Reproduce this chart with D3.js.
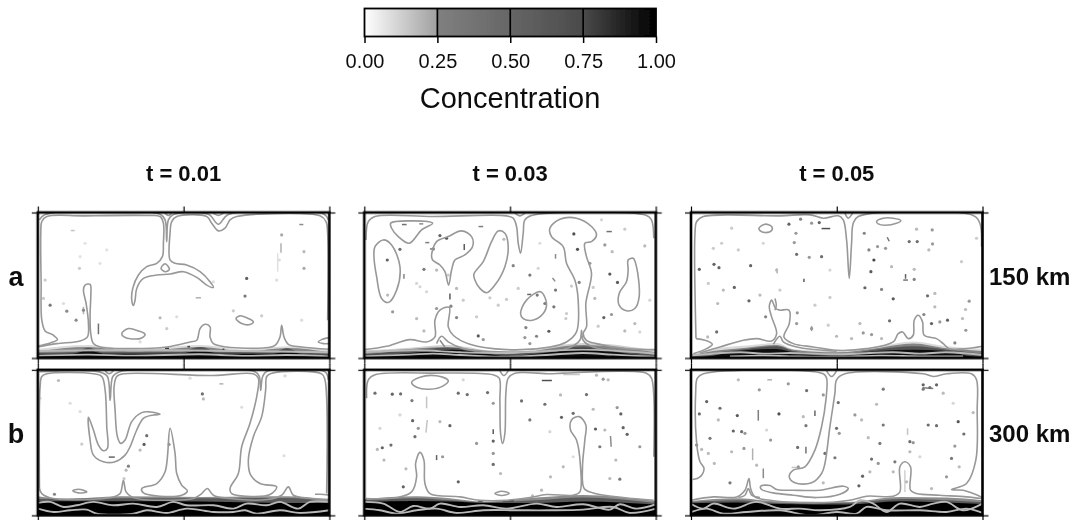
<!DOCTYPE html>
<html>
<head>
<meta charset="utf-8">
<script src="https://cdn.jsdelivr.net/npm/d3@7"></script>
<style>
body { margin: 0; background: #fff; }
text { font-family: "Liberation Sans", Arial, sans-serif; fill: #111; }
</style>
</head>
<body>
<div id="container"></div>
<script>
// Concentration colour bar
const barTicks = [0, 0.25, 0.5, 0.75, 1];
const barStops = [[0, "#ffffff"], [0.2499, "#a0a0a0"], [0.25, "#808080"], [0.5, "#666666"], [0.75, "#4a4a4a"], [1, "#000000"]];

const columnTitles = ["t = 0.01", "t = 0.03", "t = 0.05"];
const rowLetters = ["a", "b"];
const rowDepths = ["150 km", "300 km"];

// Everything below in digitising units, one frame per panel: [x0, x1, y0, y1]
const frameA1 = [113, 988, 38, 473], frameA2 = [43, 918, 38, 473], frameA3 = [33, 908, 38, 473];
const frameB1 = [113, 988, 30, 465], frameB2 = [43, 918, 30, 465], frameB3 = [33, 908, 30, 465];

// contours: [kind, points], kind 0 open, 1 closed, 2 open and inside the dark layer
const a1Contours = [
  [0, [[113,437],[150,428],[172,418],[160,405],[135,392],[125,360],[123,250],[122,100],[125,65],[140,50],[250,48],[440,47],[480,50],[490,70],[490,130],[487,170],[470,190],[440,200],[415,225],[398,265],[395,300],[400,316],[405,300],[410,265],[430,235],[470,225],[510,222],[550,215],[590,232],[620,255],[640,262],[630,245],[600,215],[560,195],[525,190],[510,180],[510,100],[515,65],[530,50],[620,50],[635,70],[655,93],[675,85],[690,60],[710,50],[960,48],[978,65],[983,100],[983,360]]],
  [0, [[118,60],[135,44],[480,43],[495,60],[500,125],[505,60],[520,44],[625,43],[655,73],[685,44],[970,42],[985,60]]],
  [0, [[495,40],[505,47],[515,40]]],
  [0, [[640,40],[655,47],[670,40]]],
  [1, [[495,191],[483,205],[495,215],[508,208]]],
  [1, [[365,400],[385,385],[415,392],[435,402],[425,413],[395,416],[372,410]]],
  [1, [[708,355],[720,347],[745,355],[760,365],[750,373],[725,370]]],
  [0, [[113,440],[170,430],[240,422],[262,410],[265,370],[258,310],[250,270],[255,255],[270,253],[272,290],[270,340],[272,400],[280,430],[300,440],[400,445],[500,440],[570,425],[590,420],[600,385],[615,372],[630,380],[630,410],[640,430],[680,440],[790,443],[825,435],[840,410],[845,375],[852,410],[865,432],[905,440],[988,447]]],
  [0, [[988,412],[965,418],[955,425],[970,430],[988,430]]],
  [2, [[113,452],[300,450],[500,450],[700,452],[988,456]]],
  [2, [[113,466],[265,463],[400,466],[600,462],[740,467],[860,464],[988,468]]]
];
const a1Bands = [
  [0.08, [[113,446],[265,434],[400,448],[600,434],[740,448],[860,438],[988,450]]],
  [0.3, [[113,453],[265,440],[400,453],[600,440],[740,453],[860,443],[988,456]]],
  [0.65, [[113,458],[220,456],[265,442],[310,456],[540,455],[600,440],[660,456],[820,456],[860,444],[900,456],[988,460]]],
  [0.95, [[113,462],[220,460],[265,450],[310,460],[540,460],[600,450],[660,460],[820,460],[860,452],[900,460],[988,464]]]
];
const a1Spots = [[740,235,.75],[735,288,.5],[845,105,.25],[250,330,.35],[150,315,.5],[200,333,.35],[228,360,.35],[130,295,.15],[135,240,.15],[238,205,.15],[912,155,.2],[912,205,.25],[480,353,.2],[500,385,.15],[785,347,.15],[700,332,.15],[830,240,.1],[838,180,.1],[255,130,.08],[240,170,.08],[300,190,.08],[320,150,.08],[190,310,.1],[640,245,.1],[530,350,.1],[905,360,.1],[420,425,.1]];
const a1Streaks = [[295,370,295,402,.5],[843,130,843,158,.2],[898,74,910,74,.3],[212,92,224,92,.15],[587,293,603,293,.2],[250,320,250,342,.2],[495,444,507,444,.95],[562,439,570,439,.9],[667,447,673,447,.9],[833,160,833,215,.08]];

const a2Contours = [
  [0, [[48,120],[55,65],[75,50],[250,50],[470,48],[490,55],[500,80],[505,130],[512,160],[520,100],[525,60],[545,47],[890,47],[905,60],[912,115]]],
  [0, [[495,40],[510,48],[525,40]]],
  [1, [[122,70],[180,63],[248,70],[215,90],[178,130],[145,110],[125,85]]],
  [1, [[75,140],[100,120],[125,135],[150,200],[140,270],[115,307],[95,295],[80,230],[72,170]]],
  [1, [[245,165],[260,125],[295,110],[335,93],[365,110],[368,140],[345,165],[315,180],[305,210],[296,255],[285,215],[270,195],[248,180]]],
  [1, [[372,222],[400,185],[425,125],[445,93],[465,100],[475,140],[465,200],[435,255],[410,278],[390,265],[375,240]]],
  [1, [[512,340],[530,300],[572,275],[590,310],[580,340],[548,360],[520,355]]],
  [1, [[835,180],[850,175],[860,200],[868,290],[855,325],[830,332],[808,315],[808,280],[830,245],[835,210]]],
  [0, [[43,448],[110,438],[180,418],[230,425],[255,410],[255,360],[270,330],[298,322],[295,380],[310,405],[360,432],[470,448],[600,440],[650,425],[680,395],[685,300],[675,240],[650,190],[640,140],[605,110],[600,85],[630,58],[680,55],[725,80],[740,105],[725,125],[705,130],[710,170],[725,220],[708,310],[710,380],[700,400],[710,420],[740,430],[830,445],[918,448]]],
  [0, [[260,430],[275,408],[295,425],[340,445],[470,455],[650,445],[690,420],[695,390],[700,420],[730,440],[918,458]]],
  [2, [[43,456],[200,450],[330,456],[470,458],[700,448],[918,460]]],
  [2, [[43,468],[180,463],[250,460],[330,464],[470,470],[620,462],[700,458],[790,463],[918,470]]]
];
const a2Bands = [
  [0.1, [[43,450],[180,442],[290,434],[470,456],[700,428],[918,450]]],
  [0.3, [[43,456],[180,446],[290,440],[470,460],[700,434],[918,456]]],
  [0.65, [[43,462],[180,450],[290,442],[400,452],[470,462],[600,450],[700,438],[800,450],[918,465]]],
  [0.95, [[43,470],[180,458],[310,448],[400,458],[470,468],[600,456],[700,444],[800,456],[918,472]]]
];
const a2Spots = [[112,180,.7],[150,148,.6],[113,285,.2],[222,208,.5],[270,107,.7],[290,115,.9],[250,147,.6],[260,210,.2],[303,318,.4],[320,265,.2],[320,352,.4],[260,325,.3],[128,335,.3],[200,355,.2],[385,407,.8],[400,418,.3],[222,392,.2],[490,197,.4],[462,118,.2],[540,225,.5],[617,270,.5],[562,285,.5],[585,310,.5],[612,320,.5],[528,382,.4],[597,393,.8],[560,408,.4],[525,412,.3],[540,430,.3],[672,102,.9],[683,148,.9],[765,135,.3],[787,155,.2],[780,222,.8],[803,247,.8],[688,247,.4],[762,352,.7],[785,343,.3],[735,295,.2],[855,370,.2],[825,392,.2],[885,138,.2],[825,88,.15],[200,250,.12],[210,260,.12],[230,275,.12],[340,300,.15],[380,350,.15],[445,315,.15],[470,298,.15],[420,293,.15],[505,265,.15],[650,340,.15],[730,262,.15],[745,378,.15],[665,258,.15],[648,355,.15],[870,395,.12],[900,300,.12],[565,205,.12],[570,130,.1],[755,60,.12],[720,190,.3],[295,225,.15]];
const a2Streaks = [[156,74,170,74,.5],[208,72,220,72,.3],[226,128,238,128,.4],[240,147,248,147,.4],[343,132,343,150,.7],[162,222,162,236,.35],[300,280,300,298,.7],[386,80,400,80,.4],[608,234,616,244,.3],[617,162,617,176,.3],[532,283,544,283,.6],[770,95,786,95,.5],[270,420,285,440,.3]];

const a3Contours = [
  [0, [[48,415],[45,100],[50,65],[70,50],[300,48],[390,45],[430,55],[475,48],[490,60],[500,120],[508,235],[515,130],[520,70],[535,50],[880,47],[900,70],[905,140]]],
  [0, [[48,415],[75,420],[97,432],[80,445],[40,460]]],
  [0, [[495,40],[505,55],[518,40]]],
  [1, [[237,85],[255,73],[275,80],[275,92],[255,98],[240,92]]],
  [1, [[590,65],[610,55],[640,55],[663,62],[650,70],[615,76],[595,72]]],
  [0, [[60,458],[120,440],[190,420],[230,415],[275,422],[290,400],[275,350],[268,320],[275,300],[287,325],[300,330],[327,330],[328,370],[312,410],[340,430],[400,440],[470,450],[560,445],[640,425],[655,400],[668,395],[685,415],[700,405],[703,360],[715,345],[728,365],[733,405],[770,415],[790,430],[808,445],[860,445],[908,438]]],
  [0, [[285,295],[289,315],[285,330]]],
  [0, [[280,432],[300,408],[310,425],[350,440],[470,453]]],
  [2, [[33,466],[180,456],[250,460],[330,458],[470,462],[640,456],[720,460],[800,456],[908,464]]],
  [2, [[150,468],[250,466],[330,468],[470,470],[600,466],[720,468],[850,468]]]
];
const a3Bands = [
  [0.08, [[33,460],[100,445],[200,436],[290,428],[340,446],[470,452],[600,438],[700,424],[800,438],[908,445]]],
  [0.3, [[33,465],[100,452],[200,442],[290,434],[340,448],[470,456],[600,442],[700,430],[800,444],[908,452]]],
  [0.65, [[33,468],[100,458],[200,446],[290,438],[340,452],[470,462],[600,446],[700,438],[800,448],[908,460]]],
  [0.95, [[33,472],[100,466],[170,452],[290,446],[340,456],[470,468],[590,452],[700,448],[800,452],[860,466],[908,470]]]
];
const a3Spots = [[327,73,.7],[362,58,.4],[395,70,.3],[418,68,.7],[348,100,.3],[343,128,.3],[350,163,.6],[425,170,.6],[388,172,.3],[155,85,.15],[102,193,.7],[117,203,.7],[58,208,.7],[212,197,.7],[163,262,.7],[130,270,.2],[85,250,.15],[290,210,.2],[207,302,.7],[240,285,.2],[113,310,.2],[257,350,.4],[352,338,.3],[350,370,.3],[395,385,.3],[110,395,.6],[83,410,.2],[470,408,.2],[553,100,.4],[593,140,.3],[567,150,.4],[617,145,.3],[688,125,.6],[712,125,.6],[757,90,.3],[710,88,.2],[758,132,.3],[747,150,.2],[582,180,1],[573,215,.8],[635,200,.2],[703,208,.2],[703,238,.4],[555,263,.7],[605,268,.4],[640,296,.8],[743,287,.6],[765,280,.2],[868,303,.3],[857,328,.2],[765,320,.2],[629,362,.6],[755,370,.7],[780,365,.3],[803,360,.7],[848,355,.2],[858,390,.3],[825,428,.4],[732,343,.4],[550,398,.3],[575,403,.3],[605,415,.2],[515,415,.2],[540,370,.2],[445,375,.15],[405,315,.15],[450,292,.15],[300,270,.15],[100,145,.15],[125,130,.15],[175,150,.15],[250,130,.12],[450,210,.12],[845,185,.15],[890,115,.15]];
const a3Streaks = [[425,86,451,86,.8],[372,236,372,246,.7],[622,112,628,124,.5],[677,222,677,236,.6],[395,378,395,392,.3],[290,205,292,220,.2],[670,240,684,240,.5]];

const b1Contours = [
  [0, [[118,385],[120,80],[125,50],[140,42],[280,42],[305,50],[315,90],[320,200],[322,265],[310,272],[295,255],[280,210],[265,172],[270,240],[280,285],[310,305],[345,305],[375,285],[390,260],[410,210],[430,175],[460,165],[480,163],[450,156],[425,158],[395,185],[375,240],[362,250],[352,230],[345,150],[342,80],[350,50],[370,42],[640,47],[760,42],[775,55],[772,100],[750,190],[725,260],[715,340],[690,385],[695,400],[740,408],[810,403],[830,380],[780,370],[752,345],[745,300],[760,230],[785,170],[797,90],[800,50],[815,40],[965,42],[975,60],[980,400]]],
  [0, [[118,36],[300,37],[322,50],[330,122],[338,50],[355,37],[765,36],[778,50],[782,92],[788,50],[800,35],[975,36],[985,60]]],
  [0, [[315,33],[327,42],[340,33]]],
  [0, [[118,385],[125,400],[160,415],[340,410],[360,400],[370,360],[378,395],[395,410],[420,417],[500,420],[580,415],[605,400],[622,385],[640,405],[690,415],[800,418],[845,405],[865,380],[880,405],[910,412],[988,418]]],
  [1, [[425,385],[470,370],[495,335],[510,205],[525,280],[530,340],[545,375],[562,392],[545,405],[480,408],[430,398]]],
  [0, [[988,405],[960,402],[945,402]]],
  [1, [[218,392],[235,387],[260,395],[235,398]]],
  [2, [[113,428],[150,425],[190,440],[230,435],[280,425],[340,435],[400,430],[470,440],[520,425],[560,435],[640,435],[700,445],[740,430],[800,435],[840,425],[895,445],[930,425],[988,425]]],
  [2, [[113,445],[160,455],[210,450],[260,448],[290,460],[400,460],[440,450],[500,458],[560,445],[640,455],[700,455],[735,450],[770,460],[840,450],[900,458],[988,450]]]
];
const b1Bands = [
  [0.25, [[113,408],[200,416],[360,408],[600,410],[860,408],[988,420]]],
  [0.6, [[113,416],[360,414],[600,414],[860,413],[988,424]]],
  [1, [[113,423],[360,423],[600,424],[860,428],[988,428]]]
];
const b1Spots = [[607,102,.6],[610,117,.2],[175,62,.2],[432,253,.8],[440,227,.6],[420,270,.2],[507,253,.3],[385,318,.4],[378,330,.2],[372,355,.15],[245,252,.15],[240,155,.1],[210,130,.1],[163,402,.4],[852,287,.1],[120,115,.1],[725,142,.1],[570,55,.1],[855,48,.12]];
const b1Streaks = [[326,291,344,291,.6],[658,72,670,72,.2]];

const b2Contours = [
  [0, [[50,115],[55,60],[75,45],[250,40],[430,45],[448,55],[450,120],[452,220],[458,250],[465,220],[468,100],[475,55],[495,40],[600,42],[640,40],[890,40],[905,55],[912,110],[912,290]]],
  [0, [[450,33],[462,47],[475,33]]],
  [1, [[185,68],[210,52],[260,48],[295,62],[280,78],[240,88],[200,82]]],
  [0, [[48,415],[140,412],[185,395],[200,350],[197,310],[210,277],[222,300],[225,370],[240,400],[330,410],[390,420],[470,420],[540,412],[590,403],[670,405],[690,395],[692,320],[680,240],[662,210],[665,180],[688,170],[708,195],[705,240],[698,320],[703,385],[730,398],[820,412],[912,420]]],
  [1, [[435,400],[455,393],[478,400],[455,406]]],
  [2, [[43,425],[100,430],[150,455],[190,437],[240,445],[270,430],[330,440],[400,435],[470,445],[560,430],[620,440],[700,432],[780,448],[810,432],[860,445],[918,432]]],
  [2, [[43,445],[90,450],[140,460],[200,450],[260,445],[320,458],[400,450],[500,450],[600,450],[700,448],[790,440],[840,458],[918,445]]]
];
const b2Bands = [
  [0.25, [[43,416],[200,408],[300,414],[400,424],[560,412],[700,404],[918,422]]],
  [0.6, [[43,420],[200,414],[300,420],[400,426],[560,420],[700,412],[918,428]]],
  [1, [[43,425],[200,422],[300,424],[400,428],[560,428],[700,424],[918,433]]]
];
const b2Spots = [[75,100,.6],[127,103,.7],[152,102,.6],[186,122,.5],[325,100,.6],[352,104,.6],[413,98,.6],[430,130,.3],[515,123,.6],[585,133,.6],[632,105,.2],[710,104,.6],[670,160,.6],[635,172,.7],[540,180,.5],[802,143,.3],[813,162,.7],[188,182,.7],[300,197,.7],[205,205,.3],[195,230,.6],[270,185,.2],[430,243,.7],[737,207,.8],[820,203,.7],[832,223,.7],[765,210,.2],[750,260,.5],[870,260,.3],[97,263,.7],[123,255,.6],[82,268,.2],[278,290,.3],[430,280,.3],[430,313,.6],[102,300,.2],[168,326,.2],[325,365,.7],[160,380,.7],[810,357,.5],[780,355,.2],[670,290,.1],[452,340,.2],[640,320,.2],[602,350,.2],[575,390,.2],[548,407,.2],[798,300,.2],[380,250,.3],[760,58,.3],[740,46,.2],[730,148,.2],[600,215,.12],[90,205,.12],[150,165,.12],[340,60,.12],[775,60,.2]];
const b2Streaks = [[576,62,606,62,.8],[230,110,230,145,.15],[430,208,430,222,.7],[782,228,784,260,.3],[260,285,260,300,.6],[232,180,228,218,.15],[385,422,399,422,.95],[458,422,492,422,.9],[640,44,690,44,.15]];

const b3Contours = [
  [0, [[38,358],[60,350],[72,325],[60,305],[50,250],[47,100],[52,55],[70,42],[430,42],[440,55],[438,120],[425,200],[405,270],[375,320],[340,330],[328,350],[345,368],[395,368],[425,340],[435,310],[450,200],[465,100],[470,60],[495,42],[730,42],[760,50],[800,42],[875,42],[890,60],[892,150],[888,300],[860,370],[815,388],[850,390],[880,400],[908,412]]],
  [0, [[440,33],[455,50],[470,33]]],
  [1, [[242,378],[270,376],[290,388],[340,390],[420,390],[490,378],[505,385],[480,402],[410,412],[340,405],[280,398],[245,388]]],
  [0, [[33,420],[100,410],[170,410],[195,390],[207,355],[212,385],[225,410],[270,420],[400,428],[510,420],[560,408],[640,408],[660,395],[660,320],[675,305],[692,320],[692,390],[710,400],[780,405],[860,410],[908,415]]],
  [0, [[175,412],[195,405],[205,385],[215,405],[240,412]]],
  [2, [[35,432],[70,445],[100,430],[160,445],[230,425],[300,445],[360,445],[420,450],[510,440],[540,420],[580,430],[620,455],[660,430],[720,440],[760,430],[800,425],[850,450],[908,430]]],
  [2, [[35,455],[80,445],[130,460],[200,455],[300,450],[390,465],[470,455],[530,460],[560,440],[620,450],[720,450],[800,455],[860,445],[908,458]]]
];
const b3Bands = [
  [0.25, [[33,422],[170,414],[300,424],[500,425],[660,410],[800,412],[908,420]]],
  [0.6, [[33,426],[170,420],[300,428],[500,428],[660,416],[800,420],[908,426]]],
  [1, [[33,429],[170,427],[300,431],[500,433],[660,423],[800,427],[908,431]]]
];
const b3Spots = [[80,125,.7],[120,145,.6],[58,162,.6],[172,167,.8],[297,162,.9],[370,170,.2],[378,197,.5],[238,90,.3],[325,72,.3],[380,92,.6],[430,105,.3],[475,128,.6],[470,205,.6],[478,220,.3],[160,213,.7],[185,215,.6],[195,220,.3],[90,235,.5],[50,255,.5],[65,268,.2],[85,280,.2],[155,275,.2],[192,265,.3],[272,240,.3],[353,262,.6],[150,368,.5],[103,310,.2],[230,315,.2],[355,320,.3],[435,280,.6],[465,293,.5],[548,348,.7],[537,377,.7],[575,297,.6],[595,310,.3],[645,305,.5],[640,335,.2],[570,335,.2],[600,250,.5],[565,233,.2],[610,195,.5],[525,165,.3],[545,180,.2],[610,88,.5],[730,75,.7],[750,83,.6],[770,75,.7],[730,88,.5],[790,100,.2],[835,185,.8],[745,195,.6],[770,197,.6],[852,222,.6],[815,295,.5],[838,320,.2],[825,258,.3],[800,350,.3],[755,385,.2],[690,245,.6],[700,248,.3],[690,275,.2],[430,368,.2],[680,365,.2],[880,158,.2],[590,133,.2],[175,60,.2],[115,180,.2],[260,210,.12],[720,290,.12],[820,130,.12]];
const b3Streaks = [[235,150,235,182,.4],[405,152,405,168,.6],[218,265,218,300,.2],[378,260,378,280,.5],[250,325,250,354,.3],[683,205,683,225,.15],[262,60,276,60,.2],[675,330,675,395,.12],[335,322,360,322,.15],[728,84,760,86,.4]];

// one entry per panel, row by row
const panels = [
  [frameA1, a1Bands, a1Contours, a1Spots, a1Streaks],
  [frameA2, a2Bands, a2Contours, a2Spots, a2Streaks],
  [frameA3, a3Bands, a3Contours, a3Spots, a3Streaks],
  [frameB1, b1Bands, b1Contours, b1Spots, b1Streaks],
  [frameB2, b2Bands, b2Contours, b2Spots, b2Streaks],
  [frameB3, b3Bands, b3Contours, b3Spots, b3Streaks]
];

const width = 1077;
const height = 520;
const panelW = 291.5;
const panelH = 145.5;
const colX = [37.8, 364.3, 691];
const rowY = [212.5, 369.8];

const grey = d3.scaleLinear().domain(barTicks).range(["#ffffff", "#8c8c8c", "#666666", "#474747", "#000000"]);
const contourColor = "#989898";
const layerContourColor = "#b8b8b8";

const svg = d3.select("#container").append("svg")
    .attr("width", width)
    .attr("height", height)
    .attr("viewBox", [0, 0, width, height])
    .style("display", "block");

const defs = svg.append("defs");
defs.append("filter").attr("id", "soft").attr("x", "-5%").attr("y", "-5%").attr("width", "110%").attr("height", "110%")
    .append("feGaussianBlur").attr("stdDeviation", 0.6);
defs.append("filter").attr("id", "softer").attr("x", "-5%").attr("y", "-5%").attr("width", "110%").attr("height", "110%")
    .append("feGaussianBlur").attr("stdDeviation", 0.3);
defs.append("clipPath").attr("id", "panel-clip")
    .append("rect").attr("width", panelW).attr("height", panelH);

// colour bar
const gradient = defs.append("linearGradient").attr("id", "bar-fill");
gradient.selectAll("stop").data(barStops).join("stop")
    .attr("offset", d => d[0])
    .attr("stop-color", d => d[1]);

const barX = d3.scaleLinear().domain([0, 1]).range([364.5, 656]);
const bar = svg.append("g").attr("filter", "url(#softer)");
bar.append("rect")
    .attr("x", barX(0)).attr("y", 8.5)
    .attr("width", barX(1) - barX(0)).attr("height", 28)
    .attr("fill", "url(#bar-fill)");
bar.selectAll("line.sep").data(barTicks.slice(1, 4)).join("line")
    .attr("class", "sep")
    .attr("x1", barX).attr("x2", barX)
    .attr("y1", 8).attr("y2", 36)
    .attr("stroke", "#000").attr("stroke-width", 1.7);
bar.append("rect")
    .attr("x", barX(0)).attr("y", 8.5)
    .attr("width", barX(1) - barX(0)).attr("height", 28)
    .attr("fill", "none").attr("stroke", "#000").attr("stroke-width", 1.8);

const barAxis = bar.append("g")
    .attr("transform", "translate(0,36.5)")
    .call(d3.axisBottom(barX).tickValues(barTicks).tickSize(6.5).tickPadding(11).tickFormat(d3.format(".2f")));
barAxis.select(".domain").remove();
barAxis.selectAll("line").attr("stroke", "#000").attr("stroke-width", 1.5);
barAxis.selectAll("text").attr("font-size", 20).attr("dy", "0.71em").style("fill", "#111");

bar.append("text")
    .attr("x", 510).attr("y", 108)
    .attr("text-anchor", "middle").attr("font-size", 29)
    .text("Concentration");

// titles and row labels
const labels = svg.append("g").attr("filter", "url(#softer)");
labels.selectAll("text.title").data(columnTitles).join("text")
    .attr("class", "title")
    .attr("x", (d, i) => colX[i] + panelW / 2)
    .attr("y", 181)
    .attr("text-anchor", "middle")
    .attr("font-weight", "bold").attr("font-size", 22)
    .text(d => d);
labels.selectAll("text.letter").data(rowLetters).join("text")
    .attr("class", "letter")
    .attr("x", 16)
    .attr("y", (d, i) => rowY[i] + 73)
    .attr("text-anchor", "middle")
    .attr("font-weight", "bold").attr("font-size", 27)
    .text(d => d);
labels.selectAll("text.depth").data(rowDepths).join("text")
    .attr("class", "depth")
    .attr("x", 989)
    .attr("y", (d, i) => rowY[i] + 72)
    .attr("font-weight", "bold").attr("font-size", 24)
    .text(d => d);

// panels
panels.forEach((p, i) => {
  const frame = p[0];
  const g = svg.append("g")
      .attr("transform", `translate(${colX[i % 3]},${rowY[Math.floor(i / 3)]})`);

  const x = d3.scaleLinear().domain([frame[0], frame[1]]).range([0, panelW]);
  const y = d3.scaleLinear().domain([frame[2], frame[3]]).range([0, panelH]);

  const inner = g.append("g").attr("clip-path", "url(#panel-clip)")
      .append("g").attr("filter", "url(#soft)");

  const band = d3.area().x(d => x(d[0])).y0(panelH).y1(d => y(d[1])).curve(d3.curveMonotoneX);
  inner.selectAll("path.band").data(p[1]).join("path")
      .attr("class", "band")
      .attr("d", d => band(d[1]))
      .attr("fill", d => grey(d[0]));

  inner.selectAll("line.streak").data(p[4]).join("line")
      .attr("class", "streak")
      .attr("x1", d => x(d[0])).attr("y1", d => y(d[1]))
      .attr("x2", d => x(d[2])).attr("y2", d => y(d[3]))
      .attr("stroke", d => grey(d[4] * 0.85)).attr("stroke-width", 1.5);

  inner.selectAll("circle").data(p[3]).join("circle")
      .attr("cx", d => x(d[0])).attr("cy", d => y(d[1]))
      .attr("r", 1.6)
      .attr("fill", d => grey(d[2] * 0.75));

  const open = d3.line().x(d => x(d[0])).y(d => y(d[1])).curve(d3.curveCatmullRom.alpha(0.5));
  const closed = d3.line().x(d => x(d[0])).y(d => y(d[1])).curve(d3.curveCatmullRomClosed.alpha(0.5));
  inner.selectAll("path.contour").data(p[2]).join("path")
      .attr("class", "contour")
      .attr("d", d => (d[0] === 1 ? closed : open)(d[1]))
      .attr("fill", "none")
      .attr("stroke", d => d[0] === 2 ? layerContourColor : contourColor)
      .attr("stroke-width", d => d[0] === 2 ? 1.9 : 1.6);

  // frame and map ticks
  const lon = d3.scaleLinear().domain([-180, 180]).range([0, panelW]);
  const lat = d3.scaleLinear().domain([-90, 90]).range([panelH, 0]);
  const ticks = g.append("g").attr("filter", "url(#softer)");
  const axes = [
    [d3.axisTop(lon).tickValues([-180, 0, 180]), 0, 0],
    [d3.axisBottom(lon).tickValues([-180, 0, 180]), 0, panelH],
    [d3.axisLeft(lat).tickValues([-90, 90]), 0, 0],
    [d3.axisRight(lat).tickValues([-90, 90]), panelW, 0]
  ];
  axes.forEach(a => {
    const t = ticks.append("g")
        .attr("transform", `translate(${a[1]},${a[2]})`)
        .call(a[0].tickSize(6).tickFormat(""));
    t.select(".domain").remove();
    t.selectAll("line").attr("stroke", "#000").attr("stroke-width", 1.2);
  });
  ticks.append("rect")
      .attr("width", panelW).attr("height", panelH)
      .attr("fill", "none").attr("stroke", "#000").attr("stroke-width", 2.6);
});
</script>
</body>
</html>
